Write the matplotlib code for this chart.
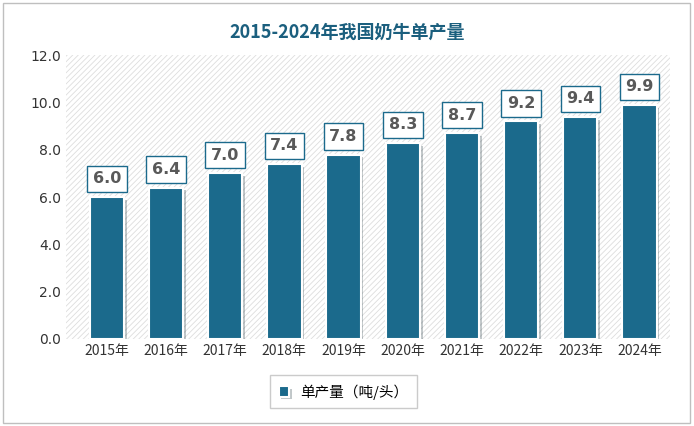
import matplotlib.pyplot as plt
import matplotlib.patheffects as pe

plt.rcParams['font.family'] = ['Noto Sans CJK SC']
plt.rcParams['hatch.color'] = '#d9d9d9'
plt.rcParams['hatch.linewidth'] = 0.6

years = ['2015年', '2016年', '2017年', '2018年', '2019年', '2020年', '2021年', '2022年', '2023年', '2024年']
values = [6.0, 6.4, 7.0, 7.4, 7.8, 8.3, 8.7, 9.2, 9.4, 9.9]
color = '#1b6a8c'

fig = plt.figure(figsize=(6.94, 4.26), dpi=100)
fig.patch.set_facecolor('white')
fig.patches.append(plt.Rectangle((0.004, 0.006), 0.99, 0.988, transform=fig.transFigure,
                                 fill=False, edgecolor='#bfbfbf', linewidth=1))
ax = fig.add_axes([0.095, 0.205, 0.87, 0.665])
ax.set_facecolor('white')
ax.add_patch(plt.Rectangle((0, 0), 1, 1, transform=ax.transAxes, fill=False,
                           hatch='//////', edgecolor='#dddddd', linewidth=0, zorder=0))

bars = ax.bar(years, values, width=0.58, color=color, edgecolor='white', linewidth=1.5,
              label='单产量（吨/头）', zorder=2,
              path_effects=[pe.SimplePatchShadow(offset=(2, -2), alpha=0.25), pe.Normal()])
for i, v in enumerate(values):
    ax.annotate(f'{v:.1f}', (i, v), xytext=(0, 13), textcoords='offset points',
                ha='center', va='center', fontsize=11.5, fontweight='bold', color='#595959',
                fontfamily='DejaVu Sans',
                bbox=dict(boxstyle='square,pad=0.35', fc='white', ec=color, lw=1), zorder=3)

ax.set_ylim(0, 12)
ax.set_yticks([0, 2, 4, 6, 8, 10, 12])
ax.set_yticklabels([f'{t:.1f}' for t in [0, 2, 4, 6, 8, 10, 12]], fontfamily='DejaVu Sans')
ax.set_xlim(-0.69, 9.51)
ax.tick_params(length=0, labelsize=10, colors='#333333')
for s in ax.spines.values():
    s.set_visible(False)

fig.text(0.5, 0.925, '2015-2024年我国奶牛单产量', ha='center', va='center',
         fontsize=13, fontweight='bold', color='#1b5f7e')
fig.legend(handles=[bars], loc='center', bbox_to_anchor=(0.495, 0.08), fontsize=10.5,
           frameon=True, edgecolor='#bfbfbf', fancybox=False, handlelength=0.7, handleheight=0.7,
           borderpad=0.6)
fig.savefig('out.png', dpi=100)
